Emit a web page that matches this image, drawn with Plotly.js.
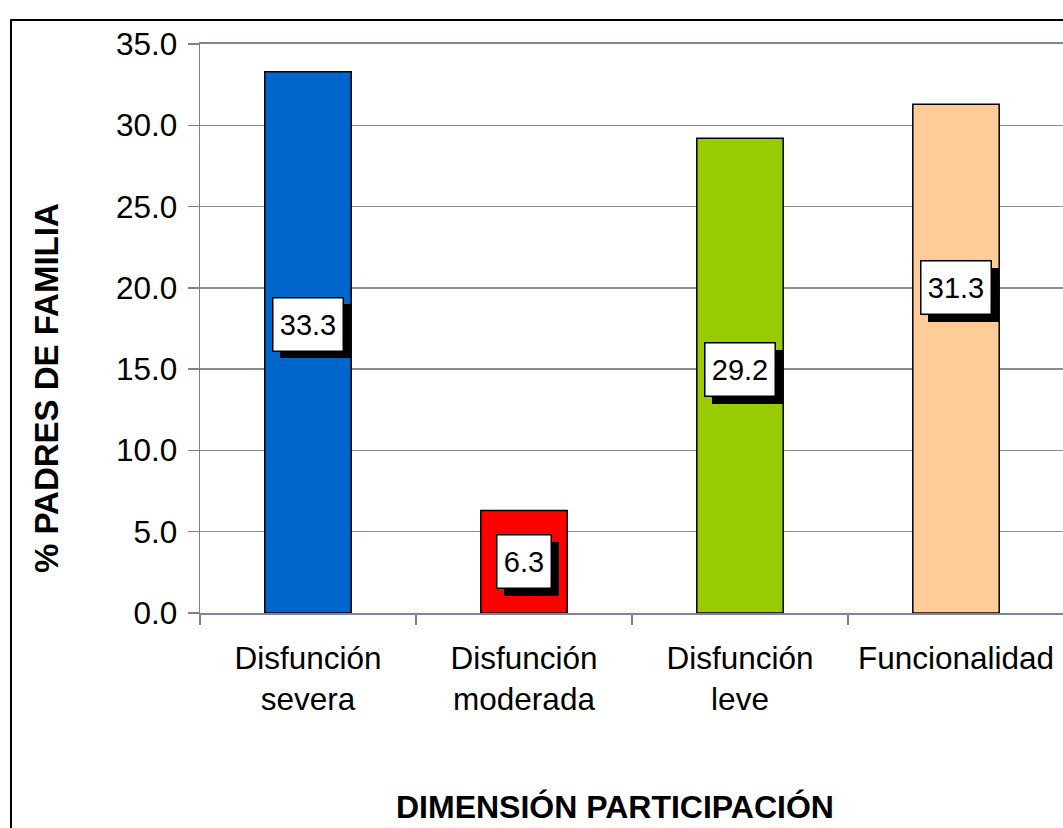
<!DOCTYPE html>
<html>
<head>
<meta charset="utf-8">
<script src="https://cdn.plot.ly/plotly-3.0.1.min.js"></script>
<style>
  html, body { margin: 0; padding: 0; background: #ffffff; overflow: hidden; }
  #chart { width: 1100px; height: 860px; }
</style>
</head>
<body>
<div id="chart"></div>
<script>
// ---- data ----
const categories = ["Disfunción<br>severa", "Disfunción<br>moderada", "Disfunción<br>leve", "Funcionalidad"];
const values = [33.3, 6.3, 29.2, 31.3];
const valueLabels = ["33.3", "6.3", "29.2", "31.3"];
const barColors = ["#0066CC", "#FF0000", "#99CC00", "#FFCC99"];
const yTickVals = [0, 5, 10, 15, 20, 25, 30, 35];
const yTickText = ["0.0", "5.0", "10.0", "15.0", "20.0", "25.0", "30.0", "35.0"];
const xTitle = "DIMENSIÓN PARTICIPACIÓN";
const yTitle = "% PADRES DE FAMILIA";

// ---- layout helpers (label placement, as moved by hand in the original) ----
const labelY = [17.75, 3.14, 14.95, 20.0];

const FONT = "Liberation Sans, Arial, sans-serif";
const LABEL_SIZE = 29;

function textWidth(t, size) {
  const ctx = document.createElement("canvas").getContext("2d");
  ctx.font = size + "px 'Liberation Sans', Arial, sans-serif";
  return Math.ceil(ctx.measureText(t).width);
}

const trace = {
  type: "bar",
  x: categories,
  y: values,
  marker: { color: barColors, line: { color: "#000000", width: 1.5 } },
  hoverinfo: "skip",
  showlegend: false
};

const annotations = [];
categories.forEach((c, i) => {
  const w = textWidth(valueLabels[i], LABEL_SIZE) + 2;
  // shadow box
  annotations.push({
    x: c, y: labelY[i], xref: "x", yref: "y",
    text: "&nbsp;", showarrow: false,
    font: { family: FONT, size: LABEL_SIZE, color: "#000000" },
    bgcolor: "#000000", bordercolor: "#000000", borderwidth: 1,
    borderpad: 5, height: 42, width: w,
    xshift: 7, yshift: -7
  });
  annotations.push({
    x: c, y: labelY[i], xref: "x", yref: "y",
    text: valueLabels[i], showarrow: false,
    font: { family: FONT, size: LABEL_SIZE, color: "#000000" },
    bgcolor: "#FFFFFF", bordercolor: "#000000", borderwidth: 1.5,
    borderpad: 5, height: 42, width: w
  });
});

// axis titles (placed as in the original, not centred on the plot)
const PW = 864, PH = 569;
annotations.push({
  xref: "paper", yref: "paper",
  x: (615 - 200) / PW, y: (613 - 807) / PH,
  text: "<b>" + xTitle + "</b>", showarrow: false,
  font: { family: FONT, size: 32, color: "#000000" },
  xanchor: "center", yanchor: "middle"
});
annotations.push({
  xref: "paper", yref: "paper",
  x: (46 - 200) / PW, y: (613 - 388) / PH,
  text: "<b>" + yTitle + "</b>", showarrow: false, textangle: -90,
  font: { family: FONT, size: 33, color: "#000000" },
  xanchor: "center", yanchor: "middle"
});

const layout = {
  width: 1100, height: 860,
  margin: { l: 200, r: 36, t: 44, b: 247, pad: 0 },
  paper_bgcolor: "#FFFFFF", plot_bgcolor: "#FFFFFF",
  font: { family: FONT, color: "#000000" },
  bargap: 0.6,
  xaxis: {
    type: "category",
    showline: true, linecolor: "#8080A0", linewidth: 2, mirror: true,
    ticks: "outside", tickson: "boundaries", ticklen: 10, tickcolor: "#808080", tickwidth: 1.5,
    tickfont: { family: FONT, size: 31.5, color: "#000000" },
    ticklabelstandoff: 16,
    showgrid: false, zeroline: false, fixedrange: true
  },
  yaxis: {
    range: [0, 35],
    tickvals: yTickVals, ticktext: yTickText,
    showline: true, linecolor: "#808080", linewidth: 1.5,
    ticks: "outside", ticklen: 11, tickcolor: "#808080", tickwidth: 1.5,
    tickfont: { family: FONT, size: 31.5, color: "#000000" },
    ticklabelstandoff: 4,
    showgrid: true, gridcolor: "#8C8C8C", gridwidth: 1.5,
    zeroline: false, fixedrange: true
  },
  annotations: annotations,
  shapes: [{
    type: "rect", xref: "paper", yref: "paper",
    x0: (11 - 200) / PW, x1: (1095 - 200) / PW,
    y0: (613 - 850) / PH, y1: (613 - 20) / PH,
    line: { color: "#000000", width: 2 }, fillcolor: "rgba(0,0,0,0)", layer: "below"
  }]
};

Plotly.newPlot("chart", [trace], layout, { displayModeBar: false, staticPlot: true });
</script>
</body>
</html>
